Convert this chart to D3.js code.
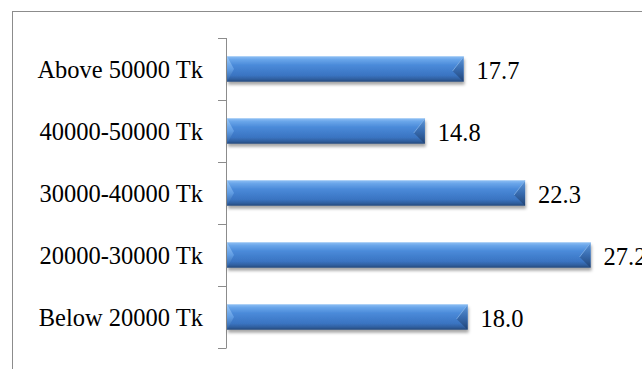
<!DOCTYPE html>
<html>
<head>
<meta charset="utf-8">
<script src="https://cdn.jsdelivr.net/npm/d3@7/dist/d3.min.js"></script>
<style>
  html, body { margin: 0; padding: 0; background: #fff; }
  svg { display: block; }
  text { font-family: "Liberation Serif", "Times New Roman", serif; fill: #000; }
</style>
</head>
<body>
<script>
// Monthly income groups, listed from top to bottom
const categories = ["Above 50000 Tk", "40000-50000 Tk", "30000-40000 Tk", "20000-30000 Tk", "Below 20000 Tk"];
// Share of respondents (%)
const values = [17.7, 14.8, 22.3, 27.2, 18.0];
const valueLabels = ["17.7", "14.8", "22.3", "27.2", "18.0"];

const W = 642, H = 369;
const svg = d3.select("body").append("svg").attr("width", W).attr("height", H);

const defs = svg.append("defs");

// vertical gradient for the bar face
const g = defs.append("linearGradient").attr("id", "barFace")
  .attr("x1", 0).attr("y1", 0).attr("x2", 0).attr("y2", 1);
[[0, "#8ec0f4"], [0.12, "#6aa6ea"], [0.35, "#4a8ad9"], [0.75, "#3a74c2"], [0.9, "#2f5f9f"], [1, "#24477a"]]
  .forEach(([o, c]) => g.append("stop").attr("offset", o).attr("stop-color", c));

const gl = defs.append("linearGradient").attr("id", "bevelLeft")
  .attr("x1", 0).attr("y1", 0).attr("x2", 0).attr("y2", 1);
[[0, "#a9d2fa"], [0.5, "#6aa6ea"], [1, "#2f5f9f"]]
  .forEach(([o, c]) => gl.append("stop").attr("offset", o).attr("stop-color", c));

const gr = defs.append("linearGradient").attr("id", "bevelRight")
  .attr("x1", 0).attr("y1", 0).attr("x2", 0).attr("y2", 1);
[[0, "#5d95d6"], [0.5, "#3668aa"], [1, "#1f3f6e"]]
  .forEach(([o, c]) => gr.append("stop").attr("offset", o).attr("stop-color", c));

const f = defs.append("filter").attr("id", "shadow")
  .attr("x", "-5%").attr("y", "-30%").attr("width", "110%").attr("height", "180%");
f.append("feDropShadow").attr("dx", 1).attr("dy", 3).attr("stdDeviation", 1.6)
  .attr("flood-color", "#000").attr("flood-opacity", 0.35);

// chart frame
svg.append("rect").attr("x", 12.5).attr("y", 11.5).attr("width", 700).attr("height", 400)
  .attr("fill", "none").attr("stroke", "#8c8c8c").attr("stroke-width", 1);

const x = d3.scaleLinear().domain([0, 30]).range([227, 628]);
const y = d3.scaleBand().domain(categories).range([38, 348]).paddingInner(0.59).paddingOuter(0.295);

// category axis with ticks between the bands
const axisX = 226.5;
svg.append("line").attr("x1", axisX).attr("x2", axisX).attr("y1", 38).attr("y2", 348)
  .attr("stroke", "#8c8c8c").attr("stroke-width", 1);
const step = y.step();
const boundaries = d3.range(categories.length + 1).map(i => 38 + i * step);
svg.selectAll("line.tick").data(boundaries).enter().append("line")
  .attr("class", "tick")
  .attr("x1", 218).attr("x2", axisX)
  .attr("y1", d => Math.round(d) + 0.5).attr("y2", d => Math.round(d) + 0.5)
  .attr("stroke", "#8c8c8c").attr("stroke-width", 1);

svg.selectAll("text.cat").data(categories).enter().append("text")
  .attr("class", "cat")
  .attr("x", 203)
  .attr("y", d => y(d) + y.bandwidth() / 2 + 8.5)
  .attr("text-anchor", "end")
  .attr("font-size", "24.5px")
  .text(d => d);

// bars with bevelled ends
const bars = svg.selectAll("g.bar").data(categories).enter().append("g").attr("class", "bar");
bars.append("rect")
  .attr("x", x(0))
  .attr("y", d => y(d))
  .attr("width", (d, i) => x(values[i]) - x(0))
  .attr("height", y.bandwidth())
  .attr("fill", "url(#barFace)")
  .attr("filter", "url(#shadow)");
bars.append("path")
  .attr("d", d => {
    const t = y(d), b = t + y.bandwidth(), m = (t + b) / 2, x0 = x(0);
    return `M${x0},${t}L${x0 + 7},${m}L${x0},${b}Z`;
  })
  .attr("fill", "url(#bevelLeft)").attr("opacity", 0.75);
bars.append("path")
  .attr("d", (d, i) => {
    const t = y(d), b = t + y.bandwidth(), m = (t + b) / 2, x1 = x(values[i]);
    return `M${x1},${t}L${x1 - 11},${m + 2}L${x1},${b}Z`;
  })
  .attr("fill", "url(#bevelRight)").attr("opacity", 0.85);
// light edge along the upper diagonal of the right bevel
bars.append("path")
  .attr("d", (d, i) => {
    const t = y(d), b = t + y.bandwidth(), m = (t + b) / 2, x1 = x(values[i]);
    return `M${x1},${t + 0.5}L${x1 - 11},${m + 2}`;
  })
  .attr("fill", "none").attr("stroke", "#9cc8f5").attr("stroke-width", 0.8).attr("opacity", 0.7);

// value labels
svg.selectAll("text.val").data(categories).enter().append("text")
  .attr("class", "val")
  .attr("x", (d, i) => x(values[i]) + 13)
  .attr("y", d => y(d) + y.bandwidth() / 2 + 10)
  .attr("font-size", "24.5px")
  .text((d, i) => valueLabels[i]);
</script>
</body>
</html>
